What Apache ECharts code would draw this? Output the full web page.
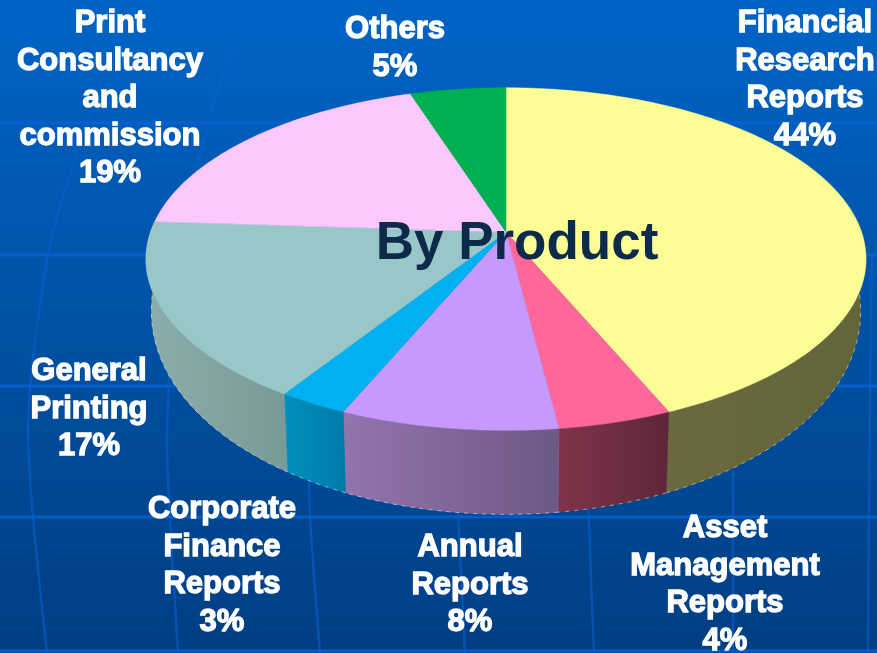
<!DOCTYPE html>
<html>
<head>
<meta charset="utf-8">
<title>By Product</title>
<script src="https://cdn.jsdelivr.net/npm/echarts@6/dist/echarts.min.js"></script>
<style>
  html, body { margin: 0; padding: 0; }
  #chart { width: 877px; height: 653px; }
</style>
</head>
<body>
<div id="chart"></div>
<script>
// values, the labels show them rounded
const categories = [
  "Financial\nResearch\nReports",
  "Asset\nManagement\nReports",
  "Annual\nReports",
  "Corporate\nFinance\nReports",
  "General\nPrinting",
  "Print\nConsultancy\nand\ncommission",
  "Others",
];
const shares = [43.6, 4.4, 8.4, 2.7, 16.9, 19, 5];

// colours per slice
const topColors = ["#FDFD96", "#FF6699", "#C799FC", "#00B0F0", "#99C7C7", "#FDC8FD", "#00B050"];
const sideLeft = ["#6A6A3E", "#80344A", "#9374AE", "#0090BC", "#8BAEAC", "#000", "#000"];
const sideRight = ["#64643A", "#5E2639", "#6C5885", "#007BA8", "#789A97", "#000", "#000"];

// label anchors (centre x, top y)
const labelX = [805, 725, 470, 222, 89, 110, 395];
const labelY = [5, 510, 529, 491, 353, 5, 11];

// perspective disc: apex of the slices, half axes and depth factor
const cx = 506, cy = 232, ax = 355.5, ay = 167, k = 0.158;
const total = shares.reduce((a, b) => a + b, 0);

function startAngle(i) {
  let sum = 0;
  for (let j = 0; j < i; j++) sum += shares[j];
  return (sum / total) * 360;
}
function rim(deg) {
  const r = (deg * Math.PI) / 180;
  const u = Math.sin(r), v = Math.cos(r), d = 1 + k * v;
  return [cx + (ax * u) / d, cy - (ay * v) / d];
}
function rimLow(deg) {
  const p = rim(deg), v = Math.cos((deg * Math.PI) / 180);
  return [cx + (p[0] - cx) * 0.985, p[1] + 46 - 38 * v];
}
function arc(a0, a1, fn) {
  const pts = [];
  const n = Math.max(2, Math.ceil(Math.abs(a1 - a0)));
  for (let i = 0; i <= n; i++) pts.push(fn(a0 + ((a1 - a0) * i) / n));
  return pts;
}

const seriesData = shares.map((v, i) => [i, v]);

// the side wall only shows on the front part of the disc
function renderSide(params, api) {
  const i = api.value(0);
  const a0 = Math.max(startAngle(i), 85);
  const a1 = Math.min(startAngle(i) + (api.value(1) / total) * 360, 275);
  if (a1 <= a0) return { type: "group", children: [] };
  const upper = arc(a0, a1, rim);
  const lower = arc(a0, a1, rimLow);
  const pts = upper.concat(lower.slice().reverse());
  return {
    type: "group",
    children: [
      {
        type: "polygon",
        shape: { points: pts },
        style: {
          fill: new echarts.graphic.LinearGradient(0, 0, 1, 0, [
            { offset: 0, color: sideLeft[i] },
            { offset: 1, color: sideRight[i] },
          ]),
          stroke: sideLeft[i],
          lineWidth: 0.4,
        },
      },
      {
        type: "polyline",
        shape: { points: lower },
        style: {
          fill: null,
          stroke: "rgba(235,235,235,0.55)",
          lineWidth: 1,
          lineDash: [4, 5],
        },
      },
    ],
  };
}

function renderTop(params, api) {
  const i = api.value(0);
  const a0 = startAngle(i);
  const a1 = a0 + (api.value(1) / total) * 360;
  return {
    type: "polygon",
    shape: { points: [[cx, cy]].concat(arc(a0, a1, rim)) },
    style: { fill: topColors[i], stroke: topColors[i], lineWidth: 0.5 },
  };
}

function renderLabel(params, api) {
  const i = api.value(0);
  return {
    type: "text",
    style: {
      x: labelX[i],
      y: labelY[i],
      text: categories[i] + "\n" + Math.round(api.value(1)) + "%",
      fill: "#fff",
      stroke: "#fff",
      lineWidth: 1.3,
      align: "center",
      verticalAlign: "top",
      font: 'bold 31px "Liberation Sans", Arial, sans-serif',
      lineHeight: 37.5,
    },
  };
}

// faint grid of the slide background
const gridColor = "rgba(10,100,215,0.75)";
const meridianColor = "rgba(10,95,205,0.6)";
const backgroundLines = [123, 255, 386, 517, 651].map((y) => ({
  type: "line",
  silent: true,
  shape: { x1: 0, y1: y, x2: 877, y2: y },
  style: { stroke: gridColor, lineWidth: 3 },
}));
const meridians = [
  [[103, 77], [62, 200], [48, 255], [33, 360], [28, 430], [33, 517], [47, 653]],
  [[237, 37], [213, 107], [178, 260], [167, 430], [170, 517], [178, 653]],
  [[309, 470], [310, 517], [320, 653]],
  [[457, 490], [465, 653]],
  [[588, 500], [594, 653]],
  [[733, 470], [733, 653]],
  [[872, 255], [870, 386], [868, 653]],
].map((pts) => ({
  type: "polyline",
  silent: true,
  shape: { points: pts, smooth: 0.3 },
  style: { fill: null, stroke: meridianColor, lineWidth: 2.5 },
}));

const chart = echarts.init(document.getElementById("chart"));
chart.setOption({
  animation: false,
  backgroundColor: new echarts.graphic.LinearGradient(0, 0, 0, 1, [
    { offset: 0, color: "#0064C6" },
    { offset: 1, color: "#003E82" },
  ]),
  graphic: backgroundLines.concat(meridians).map((el) => Object.assign(el, { z: -1 })),
  title: {
    text: "By Product",
    left: 512,
    top: 239,
    textAlign: "center",
    textVerticalAlign: "middle",
    z: 10,
    textStyle: {
      color: "#0E2A4A",
      fontFamily: '"Liberation Sans", Arial, sans-serif',
      fontWeight: "bold",
      fontSize: 53,
    },
  },
  series: [
    { type: "custom", coordinateSystem: "none", z: 2, silent: true, renderItem: renderSide, data: seriesData },
    { type: "custom", coordinateSystem: "none", z: 3, silent: true, renderItem: renderTop, data: seriesData },
    { type: "custom", coordinateSystem: "none", z: 4, silent: true, renderItem: renderLabel, data: seriesData },
  ],
});
</script>
</body>
</html>
